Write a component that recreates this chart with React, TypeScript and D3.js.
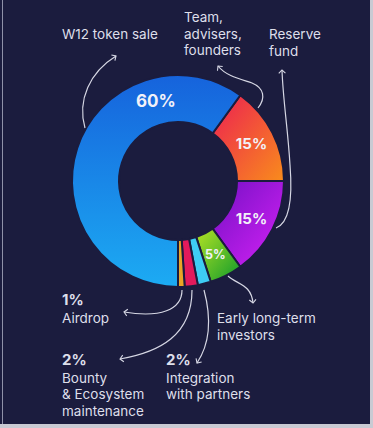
import React from 'react';
import * as d3 from 'd3';

// token allocation, clockwise starting from the "Team" slice
const categories = ['Team', 'Reserve', 'Early', 'Integration', 'Bounty', 'Airdrop', 'Sale'];
const shares = [15, 15, 5, 2, 2, 1, 60];
const sliceLabels = ['15%', '15%', '5%', '', '', '', '60%'];
const gradStops = [
  ['#ec1f52', '#f98c1c'],
  ['#7410c4', '#d522f6'],
  ['#b6e324', '#0d9a2c'],
  ['#3ecdf4', '#3ecdf4'],
  ['#e21a5c', '#e21a5c'],
  ['#eba426', '#eba426'],
  ['#1663dc', '#1cabf3'],
];

// annotation text blocks: [x, first baseline, lines, bold first line]
const notes: [number, number, string[], boolean][] = [
  [62, 39, ['W12 token sale'], false],
  [184, 22, ['Team,', 'advisers,', 'founders'], false],
  [269, 39, ['Reserve', 'fund'], false],
  [62, 305, ['1%', 'Airdrop'], true],
  [217, 323, ['Early long-term', 'investors'], false],
  [62, 365, ['2%', 'Bounty', '& Ecosystem', 'maintenance'], true],
  [166, 365, ['2%', 'Integration', 'with partners'], true],
];

// curved arrows pointing from slices to their notes
const arrows = [
  'M85,128 C77,100 90,72 116,56',
  'M258,108 C266,98 264,88 252,83 C240,79 226,76 218,66',
  'M276,228 C292,222 292,190 290,165 C288,130 283,100 282,70',
  'M228,276 C238,285 251,284 253,303',
  'M182,290 C182,310 160,318 124,312',
  'M192,290 C192,335 160,352 120,359',
  'M204,290 C212,320 209,345 197,363',
];

const W = 373, H = 428;
const cx = 178, cy = 181, rOut = 106, rIn = 59;
const bg = '#1b1c3e';
const font = 'Inter, "Noto Sans", sans-serif';

export default function App() {
  const pie = d3.pie<number>().sort(null).value(d => d)
    .startAngle(Math.PI * 0.2).endAngle(Math.PI * 2.2);
  const arcs = pie(shares);
  const arc = d3.arc<d3.PieArcDatum<number>>().innerRadius(rIn).outerRadius(rOut);
  const lineH = 16.5;

  return (
    <svg width={W} height={H} style={{ position: 'fixed', left: 0, top: 0 }}>
      <defs>
        {gradStops.map((g, i) => (
          <linearGradient key={i} id={'g' + i} x1="0" y1="0" x2={i === 6 ? 0 : 1} y2="1">
            <stop offset="0" stopColor={g[0]} />
            <stop offset="1" stopColor={g[1]} />
          </linearGradient>
        ))}
        <marker id="head" viewBox="-6 -6 12 12" markerWidth="10" markerHeight="10"
          markerUnits="userSpaceOnUse" orient="auto">
          <path d="M-4,-4 L0,0 L-4,4" fill="none" stroke="#d6d7e4" strokeWidth="1.3" />
        </marker>
      </defs>
      <rect width={W} height={H} fill="#c9cad3" />
      <rect width={370} height={424} fill={bg} />
      <line x1={2.5} x2={2.5} y1={0} y2={424} stroke="#8f91a8" strokeWidth={1} />

      <g transform={`translate(${cx},${cy})`}>
        {arcs.map((a, i) => (
          <path key={categories[i]} d={arc(a) || ''} fill={`url(#g${i})`}
            stroke={bg} strokeWidth={2} />
        ))}
        {arcs.map((a, i) => {
          if (!sliceLabels[i]) return null;
          const mid = (a.startAngle + a.endAngle) / 2;
          const [x, y] = i === 6 ? d3.pointRadial(-0.27, 83) : d3.pointRadial(mid, (rIn + rOut) / 2);
          const size = i === 6 ? 17 : i === 2 ? 12.5 : 15;
          return (
            <text key={'l' + i} x={x} y={y} dy="0.36em" textAnchor="middle"
              fontFamily={font} fontWeight={700} fontSize={size} fill="#f2f1f8">
              {sliceLabels[i]}
            </text>
          );
        })}
      </g>

      {arrows.map((d, i) => (
        <path key={'a' + i} d={d} fill="none" stroke="#d6d7e4" strokeWidth={1.2}
          markerEnd="url(#head)" />
      ))}

      {notes.map(([x, y, lines, bold], i) => (
        <text key={'n' + i} fontFamily={font} fontSize={13.5} fill="#dedfea">
          {lines.map((t, j) => (
            <tspan key={j} x={x} y={y + j * lineH + (bold && j > 0 ? 1 : 0)}
              fontWeight={bold && j === 0 ? 700 : 400}
              fontSize={bold && j === 0 ? 15 : 13.5}>
              {t}
            </tspan>
          ))}
        </text>
      ))}
    </svg>
  );
}
